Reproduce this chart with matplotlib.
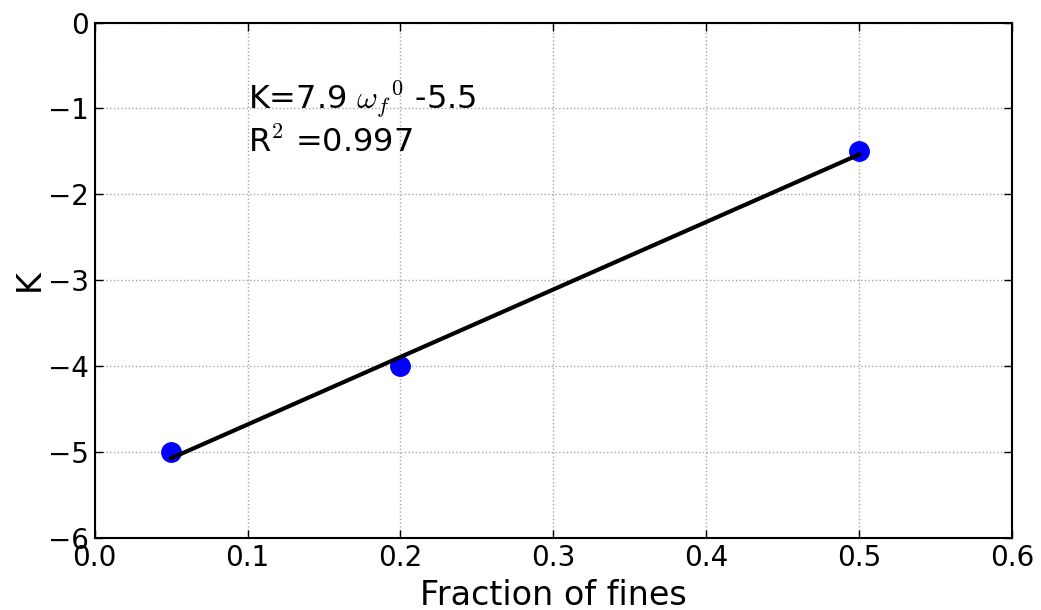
import numpy as np
import matplotlib
matplotlib.use('Agg')
import matplotlib.pyplot as plt

# data
fines = [0.05, 0.2, 0.5]
K = [-5.0, -4.0, -1.5]

plt.rcParams['mathtext.fontset'] = 'cm'
plt.rcParams['font.family'] = 'DejaVu Sans'

fig = plt.figure(figsize=(10.41, 6.10), dpi=100)
ax = fig.add_axes([0.091, 0.118, 0.881, 0.845])

ax.plot(fines, K, 'o', color='blue', markersize=14, markeredgecolor='blue', zorder=2)
# linear fit through the points
slope, intercept = np.polyfit(fines, K, 1)
xfit = np.array([fines[0], fines[-1]])
ax.plot(xfit, slope * xfit + intercept, color='black', linewidth=3, zorder=3)

ax.text(0.1, -1.0, r'K=7.9 $\omega_f{}^0$ -5.5', fontsize=23)
ax.text(0.1, -1.5, r'R$^2$ =0.997', fontsize=23)

ax.set_xlim(0, 0.6)
ax.set_ylim(-6, 0)
ax.set_xticks(np.arange(0, 0.61, 0.1))
ax.set_yticks(np.arange(-6, 0.1, 1))
ax.set_xticklabels(['0.0', '0.1', '0.2', '0.3', '0.4', '0.5', '0.6'])
ax.set_yticklabels(['\u22126', '\u22125', '\u22124', '\u22123', '\u22122', '\u22121', '0'])
ax.tick_params(direction='in', length=6, width=1, labelsize=20, pad=4, top=True, right=True)
ax.grid(True, linestyle=':', color='0.65', linewidth=1)
for s in ax.spines.values():
    s.set_linewidth(1.5)

ax.set_xlabel('Fraction of fines', fontsize=24, labelpad=5)
ax.set_ylabel('K', fontsize=24, labelpad=2)

fig.savefig('out.png', dpi=100)
